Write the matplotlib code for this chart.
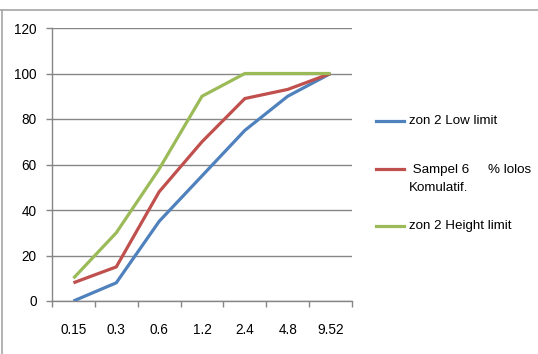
import matplotlib
matplotlib.use("Agg")
import matplotlib.pyplot as plt
from matplotlib.lines import Line2D

plt.rcParams["font.family"] = ["Liberation Sans", "DejaVu Sans"]

sizes = ["0.15", "0.3", "0.6", "1.2", "2.4", "4.8", "9.52"]
low_limit = [0, 8, 35, 55, 75, 90, 100]
sample_6 = [8, 15, 48, 70, 89, 93, 100]
high_limit = [10, 30, 58, 90, 100, 100, 100]

series = [
    ("zon 2 Low limit", low_limit, "#4F81BD"),
    (" Sampel 6     % lolos\nKomulatif.", sample_6, "#C0504D"),
    ("zon 2 Height limit", high_limit, "#9BBB59"),
]
grid_color = "#868686"

W, H = 538, 354
fig = plt.figure(figsize=(W / 100, H / 100), dpi=100)
ax = fig.add_axes([52 / W, (H - 301) / H, 300 / W, 273 / H])

x = list(range(len(sizes)))
for label, values, color in series:
    ax.plot(x, values, color=color, linewidth=2.3, solid_capstyle="butt",
            solid_joinstyle="miter", label=label, zorder=3)

ax.set_xlim(-0.5, len(sizes) - 0.5)
ax.set_ylim(0, 120)
ax.set_yticks(range(0, 121, 20))
ax.yaxis.grid(True, color=grid_color, linewidth=1.0)
ax.set_axisbelow(True)

# boundary ticks between categories, labels centred on each category
ax.set_xticks([i - 0.5 for i in range(len(sizes) + 1)])
ax.set_xticklabels([])
ax.set_xticks(x, minor=True)
ax.set_xticklabels(sizes, minor=True)
ax.tick_params(axis="x", which="major", length=4, color=grid_color, width=1)
ax.tick_params(axis="x", which="minor", length=0, pad=16, labelsize=9.8)
ax.tick_params(axis="y", length=4, color=grid_color, width=1, pad=7,
               labelsize=9.8)

for side in ["top", "right"]:
    ax.spines[side].set_visible(False)
for side in ["left", "bottom"]:
    ax.spines[side].set_color(grid_color)
    ax.spines[side].set_linewidth(1.0)

# legend drawn on the right side of the figure
legend_rows = [121, 169, 226]
for (label, values, color), row in zip(series, legend_rows):
    y = 1 - row / H
    fig.add_artist(Line2D([376 / W, 404 / W], [y, y], color=color,
                          linewidth=2.3, transform=fig.transFigure))
    two_line = "\n" in label
    fig.text(409 / W, y + (5 / H if two_line else 0), label, fontsize=9.6,
             va="top" if two_line else "center", ha="left", linespacing=1.7)

# outer frame (top and left edges)
frame_color = "#A6A6A6"
fig.add_artist(Line2D([0, 1], [1 - 10 / H, 1 - 10 / H], color=frame_color,
                      linewidth=1.2, transform=fig.transFigure))
fig.add_artist(Line2D([1.5 / W, 1.5 / W], [0, 1 - 10 / H], color=frame_color,
                      linewidth=1.2, transform=fig.transFigure))

fig.savefig("out.png", dpi=100)
